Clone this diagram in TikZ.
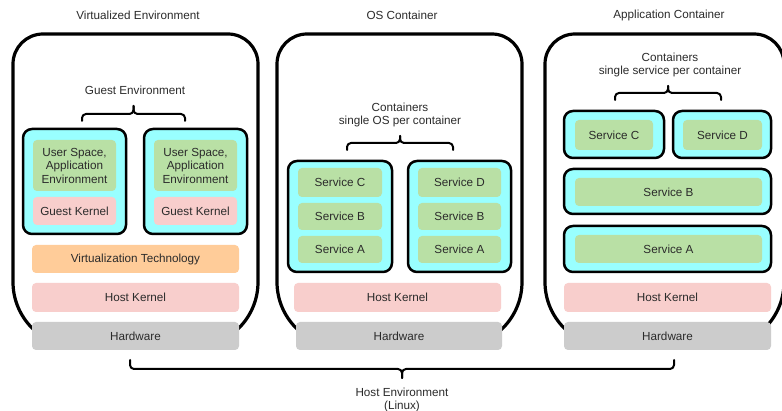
\documentclass[tikz,border=0pt]{standalone}
\usepackage{fontspec}
\setmainfont{Liberation Sans}
\definecolor{cyanfill}{HTML}{99FFFF}
\definecolor{greenfill}{HTML}{B9E0A5}
\definecolor{pinkfill}{HTML}{F8CECC}
\definecolor{orangefill}{HTML}{FFCC99}
\definecolor{grayfill}{HTML}{CCCCCC}
\definecolor{ink}{HTML}{2B2B2B}

% a filled layer given by its corners: name, x1, y1, x2, y2, style, text
\newcommand{\layer}[7]{%
  \node[#6, minimum width={(#4-#2)*1pt}, minimum height={(#5-#3)*1pt}]
    (#1) at ({(#2+#4)/2},{(#3+#5)/2}) {#7};}

% outer environment frame: small top corners, wide bottom corners tucked under the hardware
\newcommand{\envframe}[2]{%
  \draw[frame] (#1,282) -- (#1,64)
    .. controls (#1,47.43) and ({#1+13.43},34) .. ({#1+30},34)
    -- ({#2-30},34)
    .. controls ({#2-13.43},34) and (#2,47.43) .. (#2,64)
    -- (#2,282)
    .. controls (#2,317.9) and ({#2-29.1},347) .. ({#2-65},347)
    -- ({#1+65},347)
    .. controls ({#1+29.1},347) and (#1,317.9) .. (#1,282) -- cycle;}

% curly brace from x1 to x2: end height, bar height, tip height
\newcommand{\curlybrace}[6]{%
  \coordinate (#1-l) at (#2,#4);
  \coordinate (#1-r) at (#3,#4);
  \coordinate (#1-tip) at ({(#2+#3)/2},#6);
  \draw[bracestroke] (#1-l) -- (#2,#5) -- ({(#2+#3)/2},#5) -- (#1-tip);
  \draw[bracestroke] (#1-r) -- (#3,#5) -- ({(#2+#3)/2},#5) -- (#1-tip);}

\tikzset{
  txt/.style={font=\fontsize{11.7}{13.5}\selectfont, text=ink, align=center, inner sep=0pt},
  flat/.style={txt, rounded corners=4pt, draw=none},
  greenbox/.style={flat, fill=greenfill},
  kernel/.style={flat, fill=pinkfill},
  virt/.style={flat, fill=orangefill},
  hw/.style={flat, fill=grayfill},
  ctr/.style={rounded corners=9pt, draw=black, line width=2.5pt, fill=cyanfill, inner sep=0pt},
  frame/.style={draw=black, line width=3.2pt},
  bracestroke/.style={draw=black, line width=2pt, rounded corners=4pt, line cap=round, line join=round},
}

\begin{document}
\begin{tikzpicture}[x=1pt, y=-1pt]
\clip (0,0) rectangle (782,411);
\fill[white] (0,0) rectangle (782,411);

% environment frames
\envframe{13}{258}
\envframe{277}{522}
\envframe{545}{784}

% titles
\node[txt] (title1) at (138,15) {Virtualized Environment};
\node[txt] (title2) at (402,15) {OS Container};
\node[txt] (title3) at (669,15) {Application Container};

% ---- virtualized environment
\node[txt] (guestlbl) at (135,90) {Guest Environment};
\curlybrace{gb}{82}{185}{121}{114}{106}
\layer{vm1}{23}{129}{126}{234}{ctr}{}
\layer{vm2}{144}{129}{247}{234}{ctr}{}
\layer{us1}{33}{140}{116}{191}{greenbox}{User Space,\\Application\\Environment}
\layer{gk1}{33}{197}{116}{225}{kernel}{Guest Kernel}
\layer{us2}{154}{140}{237}{191}{greenbox}{User Space,\\Application\\Environment}
\layer{gk2}{154}{197}{237}{225}{kernel}{Guest Kernel}
\layer{vt}{32}{245}{239}{273}{virt}{Virtualization Technology}
\layer{hk1}{32}{283}{239}{312}{kernel}{Host Kernel}
\layer{hw1}{32}{322}{239}{350}{hw}{Hardware}

% ---- OS container
\node[txt] (oslbl) at (400,115) {Containers\\single OS per container};
\curlybrace{ob}{347}{453}{150}{143}{136}
\layer{os1}{288}{161}{392}{272}{ctr}{}
\layer{os2}{408}{161}{511}{272}{ctr}{}
\layer{osc1}{298}{168}{382}{197}{greenbox}{Service C}
\layer{osb1}{298}{203}{382}{230}{greenbox}{Service B}
\layer{osa1}{298}{236}{382}{263}{greenbox}{Service A}
\layer{osd2}{418}{168}{501}{197}{greenbox}{Service D}
\layer{osb2}{418}{203}{501}{230}{greenbox}{Service B}
\layer{osa2}{418}{236}{501}{263}{greenbox}{Service A}
\layer{hk2}{294}{283}{501}{312}{kernel}{Host Kernel}
\layer{hw2}{296}{322}{502}{350}{hw}{Hardware}

% ---- application container
\node[txt] (applbl) at (670,65) {Containers\\single service per container};
\curlybrace{ab}{615}{721}{100}{93}{86}
\layer{acC}{564}{111}{664}{158}{ctr}{}
\layer{acD}{673}{111}{771}{158}{ctr}{}
\layer{acB}{564}{169}{771}{214}{ctr}{}
\layer{acA}{564}{226}{771}{272}{ctr}{}
\layer{svcC}{575}{120}{653}{150}{greenbox}{Service C}
\layer{svcD}{683}{120}{762}{150}{greenbox}{Service D}
\layer{svcB}{575}{178}{762}{206}{greenbox}{Service B}
\layer{svcA}{575}{235}{762}{263}{greenbox}{Service A}
\layer{hk3}{564}{283}{771}{312}{kernel}{Host Kernel}
\layer{hw3}{564}{322}{771}{350}{hw}{Hardware}

% host environment brace, tip pointing down
\curlybrace{hb}{130}{674}{360}{369}{378}
\node[txt] (hostlbl) at (402,400) {Host Environment\\(Linux)};
\end{tikzpicture}
\end{document}
